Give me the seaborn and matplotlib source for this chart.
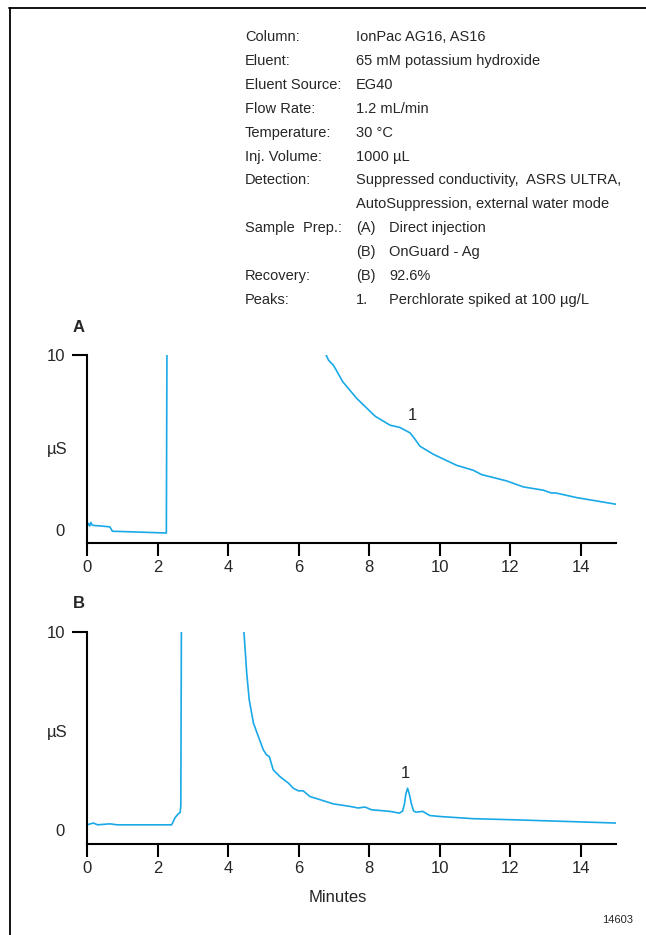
import matplotlib
matplotlib.use("Agg")
import matplotlib.pyplot as plt
import seaborn as sns
import pandas as pd
from matplotlib.lines import Line2D

# ---------------- data ----------------
a_time = [0.0, 0.04, 0.08, 0.11, 0.15, 0.2, 0.4, 0.65, 0.72, 1.2, 1.8, 2.25, 2.27, 2.29,
          6.70, 6.77, 6.85, 6.98, 7.05, 7.25, 7.65, 8.17, 8.59, 8.87, 9.16, 9.30, 9.44,
          9.82, 10.48, 10.95, 11.19, 11.9, 12.37, 12.94, 13.17, 13.3, 13.88, 15.0]
a_signal = [0.2, 0.4, 0.25, 0.45, 0.3, 0.28, 0.25, 0.2, -0.05, -0.08, -0.12, -0.15, 12.0, 12.0,
            12.0, 10.05, 9.7, 9.43, 9.2, 8.48, 7.52, 6.51, 6.0, 5.87, 5.56, 5.2, 4.8,
            4.34, 3.71, 3.43, 3.18, 2.82, 2.48, 2.29, 2.13, 2.13, 1.87, 1.49]

b_time = [0.0, 0.18, 0.3, 0.65, 0.85, 2.4, 2.5, 2.59, 2.64, 2.66, 2.68, 2.70,
          4.40, 4.45, 4.53, 4.60, 4.72, 4.86, 5.0, 5.09, 5.17, 5.28, 5.47, 5.71, 5.85, 5.99,
          6.13, 6.32, 6.61, 6.98, 7.46, 7.69, 7.88, 8.07, 8.59, 8.86, 8.95, 9.0, 9.04, 9.09,
          9.14, 9.2, 9.26, 9.33, 9.52, 9.72, 10.01, 10.95, 11.99, 13.6, 15.0]
b_signal = [0.25, 0.34, 0.25, 0.3, 0.25, 0.25, 0.62, 0.81, 0.87, 1.2, 12.0, 12.0,
            12.0, 10.0, 7.9, 6.57, 5.39, 4.71, 4.04, 3.79, 3.70, 3.03, 2.69, 2.36, 2.1, 1.97,
            1.97, 1.68, 1.52, 1.31, 1.18, 1.1, 1.15, 1.01, 0.93, 0.84, 0.95, 1.3, 1.8, 2.1,
            1.8, 1.3, 0.95, 0.89, 0.93, 0.72, 0.67, 0.56, 0.51, 0.42, 0.34]

x_ticks = [0, 2, 4, 6, 8, 10, 12, 14]
y_ticks = [0, 10]

cond_labels = ["Column:", "Eluent:", "Eluent Source:", "Flow Rate:", "Temperature:",
               "Inj. Volume:", "Detection:", "", "Sample  Prep.:", "", "Recovery:", "Peaks:"]
cond_values = ["IonPac AG16, AS16", "65 mM potassium hydroxide", "EG40", "1.2 mL/min",
               "30 \u00b0C", "1000 \u00b5L", "Suppressed conductivity,  ASRS ULTRA,",
               "AutoSuppression, external water mode", "(A)", "(B)", "(B)", "1."]
cond_extra = ["", "", "", "", "", "", "", "", "Direct injection", "OnGuard - Ag",
              "92.6%", "Perchlorate spiked at 100 \u00b5g/L"]

# ---------------- style ----------------
sns.set_style("ticks")
FONT = ["Liberation Sans Narrow", "Liberation Sans", "DejaVu Sans"]
plt.rcParams["font.family"] = FONT
W, H = 646, 935
fig = plt.figure(figsize=(W / 100, H / 100), dpi=100)
COLOR = "#1aa9e8"


def fx(x):
    return x / W


def fy(y):
    return 1 - y / H


def make_axes(top, bottom, t, s, label, lab_y, peak_xy):
    ax = fig.add_axes([fx(87), fy(bottom), fx(616) - fx(87), (bottom - top) / H])
    df = pd.DataFrame({"Minutes": t, "uS": s})
    sns.lineplot(data=df, x="Minutes", y="uS", ax=ax, sort=False, estimator=None,
                 color=COLOR, linewidth=1.2)
    ax.set_xlim(0, 15)
    ax.set_ylim(-0.72, 10)
    ax.set_xticks(x_ticks)
    ax.set_yticks(y_ticks)
    ax.set_yticklabels(["0", "10"])
    for side in ["top", "right"]:
        ax.spines[side].set_visible(False)
    for side in ["left", "bottom"]:
        ax.spines[side].set_linewidth(1.5)
        ax.spines[side].set_color("black")
    ax.tick_params(axis="x", direction="out", length=9.5, width=1.5, labelsize=12,
                   pad=3, color="black")
    ax.tick_params(axis="y", direction="out", length=11, width=1.5, labelsize=12,
                   pad=5, color="black")
    ax.yaxis.get_major_ticks()[0].tick1line.set_visible(False)
    ax.set_xlabel("")
    ax.set_ylabel("")
    ax.text(peak_xy[0], peak_xy[1], "1", ha="center", va="center", fontsize=12)
    fig.text(fx(57), fy(lab_y), "\u00b5S", ha="center", va="center", fontsize=12,
             family=FONT)
    fig.text(fx(79), fy(top - 28), label, ha="center", va="center", fontsize=12,
             fontweight="bold", family=FONT)
    return ax


axA = make_axes(355, 543, a_time, a_signal, "A", 450, (9.23, 6.57))
axB = make_axes(632, 844, b_time, b_signal, "B", 732, (9.04, 2.87))

fig.text(fx(338), fy(897), "Minutes", ha="center", va="center", fontsize=12, family=FONT)
fig.text(fx(618), fy(920), "14603", ha="center", va="center", fontsize=8, family=FONT)

# conditions block
y0 = 37
step = 23.9
for i, (lab, val, extra) in enumerate(zip(cond_labels, cond_values, cond_extra)):
    y = y0 + i * step
    if lab:
        fig.text(fx(245), fy(y), lab, ha="left", va="center", fontsize=10.5, family=FONT)
    fig.text(fx(356), fy(y), val, ha="left", va="center", fontsize=10.5, family=FONT)
    if extra:
        fig.text(fx(389), fy(y), extra, ha="left", va="center", fontsize=10.5, family=FONT)

# frame lines (top and left)
fig.add_artist(Line2D([fx(9), 1], [fy(7.5), fy(7.5)], color="black", linewidth=1.3))
fig.add_artist(Line2D([fx(9.5), fx(9.5)], [fy(7.5), 0], color="black", linewidth=1.3))

fig.savefig("out.png", dpi=100)
